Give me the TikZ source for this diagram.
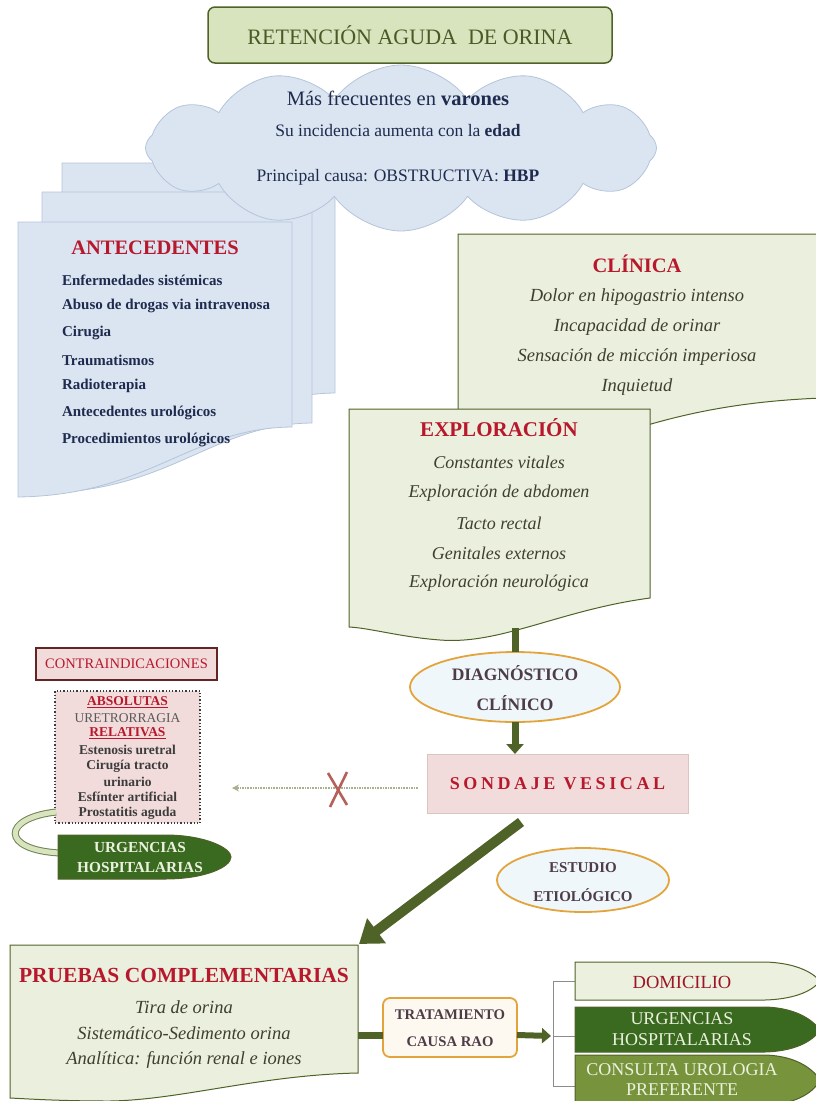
\documentclass[tikz,border=0pt]{standalone}
\usepackage{fontspec}
\setmainfont{Liberation Serif}
\usetikzlibrary{shapes.symbols,shapes.geometric,arrows.meta}
\newcommand{\myfs}[1]{\fontsize{#1pt}{#1pt}\selectfont}
\definecolor{cOlive}{HTML}{4F6228}
\definecolor{cTitleFill}{HTML}{D7E4BD}
\definecolor{cTitleText}{HTML}{4A5A26}
\definecolor{cBlueFill}{HTML}{DBE5F1}
\definecolor{cBlueLine}{HTML}{B4C4DA}
\definecolor{cDocFill}{HTML}{EBF0DE}
\definecolor{cRed}{HTML}{B8182C}
\definecolor{cItal}{HTML}{3F3F2F}
\definecolor{cNavy}{HTML}{1F2B4E}
\definecolor{cPink}{HTML}{F2DCDB}
\definecolor{cPinkLine}{HTML}{DCC4C3}
\definecolor{cBrown}{HTML}{632523}
\definecolor{cDkGreen}{HTML}{3A6A1F}
\definecolor{cMidGreen}{HTML}{77933C}
\definecolor{cLight}{HTML}{EBF1DE}
\definecolor{cOrange}{HTML}{E3A43C}
\definecolor{cEllFill}{HTML}{EFF7FB}
\definecolor{cEllText}{HTML}{4E3C48}
\definecolor{cGrayTxt}{HTML}{3C3C3C}
\definecolor{cBrk}{HTML}{8C8C8C}
\definecolor{cNoGo}{HTML}{A9B08C}
\definecolor{cXmark}{HTML}{B5605A}
\definecolor{cTtoFill}{HTML}{FDF8F0}
\begin{document}
\begin{tikzpicture}[x=1pt,y=-1pt,
  every node/.style={inner sep=0pt, outer sep=0pt},
  page/.style={fill=cBlueFill, draw=cBlueLine, line width=0.8pt},
  docbox/.style={fill=cDocFill, draw=cOlive, line width=1pt},
  redttl/.style={text=cRed, font=\myfs{#1}\bfseries},
  italtxt/.style={text=cItal, font=\myfs{18.5}\itshape},
  navytxt/.style={text=cNavy, font=\myfs{15}\bfseries, anchor=west},
  cloudtxt/.style={text=cNavy, font=\myfs{#1}},
  ovalbox/.style={ellipse, fill=cEllFill, draw=cOrange, line width=1.8pt},
  ovaltxt/.style={text=cEllText, font=\myfs{#1}\bfseries},
  smalltxt/.style={text=cGrayTxt, font=\myfs{13.5}\bfseries},
  bar/.style={draw=cOlive, line width=7pt},
  bullet/.style={draw=cOlive, line width=1pt},
  lighttxt/.style={text=cLight, font=\myfs{#1}}
]
\useasboundingbox (0,0) rectangle (816,1101);

% --- stacked pages (ANTECEDENTES)
\draw[page] (62,163) -- (335,163) -- (335,393) .. controls (235,394) and (195,461) .. (62,463) -- cycle;
\draw[page] (42,192) -- (312,192) -- (312,423) .. controls (212,424) and (172,491) .. (42,493) -- cycle;

% --- cloud
\node[cloud, cloud puffs=12, cloud puff arc=110, cloud ignores aspect,
      minimum width=511pt, minimum height=166pt,
      fill=cBlueFill, draw=cBlueLine, line width=0.8pt] (cloud) at (401,148) {};
\node[cloudtxt=20.5] (c1) at (398,98) {Más frecuentes en \textbf{varones}};
\node[cloudtxt=17.5] (c2) at (398,131) {Su incidencia aumenta con la \textbf{edad}};
\node[cloudtxt=17.5] (c3) at (398,177) {Principal causa: OBSTRUCTIVA: \textbf{HBP}};

% --- front page
\draw[page] (18,222) -- (292,222) -- (292,427) .. controls (190,428) and (150,495) .. (18,497) -- cycle;
\node[redttl=20.5] (antT) at (155,248) {ANTECEDENTES};
\node[navytxt] (a1) at (62,280) {Enfermedades sistémicas};
\node[navytxt] (a2) at (62,306) {Abuso de drogas via intravenosa};
\node[navytxt] (a3) at (62,333) {Cirugia};
\node[navytxt] (a4) at (62,360) {Traumatismos};
\node[navytxt] (a5) at (62,386) {Radioterapia};
\node[navytxt] (a6) at (62,413) {Antecedentes urológicos};
\node[navytxt] (a7) at (62,440) {Procedimientos urológicos};

% --- title
\node[draw=cOlive, line width=1.5pt, fill=cTitleFill, rounded corners=7pt,
      minimum width=404pt, minimum height=56pt, text=cTitleText, font=\myfs{22}] (title) at (410,35) {RETENCIÓN AGUDA\ \ DE ORINA};

% --- CLINICA
\draw[docbox] (458,234) -- (822,234) -- (822,398) .. controls (720,402) and (660,420) .. (600,440) .. controls (540,460) and (490,462) .. (458,460) -- cycle;
\node[redttl=20.5] (clT) at (637,264) {CLÍNICA};
\node[italtxt] (cl1) at (637,297) {Dolor en hipogastrio intenso};
\node[italtxt] (cl2) at (637,327) {Incapacidad de orinar};
\node[italtxt] (cl3) at (637,357) {Sensación de micción imperiosa};
\node[italtxt] (cl4) at (637,387) {Inquietud};

% --- EXPLORACION
\draw[docbox] (349,409) -- (650,409) -- (650,598) .. controls (560,610) and (500,645) .. (440,640) .. controls (400,637) and (370,628) .. (349,627) -- cycle;
\node[redttl=21] (exT) at (499,428) {EXPLORACIÓN};
\node[italtxt, font=\myfs{18}\itshape] (ex1) at (499,462) {Constantes vitales};
\node[italtxt, font=\myfs{18}\itshape] (ex2) at (499,493) {Exploración de abdomen};
\node[italtxt, font=\myfs{18}\itshape] (ex3) at (499,523) {Tacto rectal};
\node[italtxt, font=\myfs{18}\itshape] (ex4) at (499,553) {Genitales externos};
\node[italtxt, font=\myfs{18}\itshape] (ex5) at (499,583) {Exploración neurológica};
\coordinate (exploS) at (515,628);

% --- diagnostico
\node[ovalbox, minimum width=210pt, minimum height=70pt] (diag) at (515,687) {};
\node[ovaltxt=17.5] (dg1) at (515,673) {DIAGNÓSTICO};
\node[ovaltxt=17.5] (dg2) at (515,703) {CLÍNICO};
\draw[bar] (exploS) -- (exploS |- diag.north);

% --- sondaje
\node[fill=cPink, draw=cPinkLine, line width=0.8pt, minimum width=261pt, minimum height=59pt,
      text=cRed, font=\myfs{18}\bfseries\addfontfeatures{LetterSpace=20}] (sond) at (557.5,783.5) {SONDAJE VESICAL};
\draw[draw=cOlive, line width=7pt, -{Triangle[length=10pt,width=17pt]}] (diag.south) -- (diag.south |- sond.north);

% --- no-go arrow
\coordinate (noway) at (232,788);
\draw[draw=cNoGo, line width=1.6pt, densely dotted, shorten <=9pt, -{Stealth[length=7pt,width=7pt]}] ([yshift=-4.5pt]sond.west) -- (noway);
\draw[draw=cXmark, line width=2.6pt] (328,773) -- (347,805);
\draw[draw=cXmark, line width=2.6pt] (347,772) -- (330,807);

% --- contraindicaciones
\node[fill=cPink, draw=cBrown, line width=1.6pt, minimum width=181pt, minimum height=32pt,
      text=cRed, font=\myfs{14.5}] (contra) at (126.5,664) {CONTRAINDICACIONES};
\node[fill=cPink, draw=cGrayTxt, line width=1.3pt, dotted, minimum width=145pt, minimum height=132pt] (cbox) at (127.5,757) {};
\node[redttl=13.5] (k1) at (127.5,702) {\underline{ABSOLUTAS}};
\node[text=cGrayTxt!85, font=\myfs{13.5}] (k2) at (127.5,718) {URETRORRAGIA};
\node[redttl=13.5] (k3) at (127.5,733) {\underline{RELATIVAS}};
\node[smalltxt] (k4) at (127.5,750) {Estenosis uretral};
\node[smalltxt] (k5) at (127.5,766) {Cirugía tracto};
\node[smalltxt] (k6) at (127.5,782) {urinario};
\node[smalltxt] (k7) at (127.5,797) {Esfínter artificial};
\node[smalltxt] (k8) at (127.5,813) {Prostatitis aguda};

% --- ribbon to urgencias (left)
\coordinate (ribA) at (56,812);
\coordinate (ribB) at (60,853);
\draw[draw=cOlive!80, line width=1pt, double=cTitleFill, double distance=5pt] (ribA) .. controls (2,818) and (0,850) .. (ribB);
\draw[bullet, fill=cDkGreen] (58,835) -- (165,835) .. controls (205,835) and (231,848) .. (231,857) .. controls (231,867) and (205,879) .. (165,879) -- (58,879) -- cycle;
\node[lighttxt=15.3, font=\myfs{15.3}\bfseries] (ul1) at (140,847) {URGENCIAS};
\node[lighttxt=15.3, font=\myfs{15.3}\bfseries] (ul2) at (140,867) {HOSPITALARIAS};

% --- estudio etiologico
\node[ovalbox, minimum width=172pt, minimum height=64pt] (estud) at (583,880) {};
\node[ovaltxt=15] (es1) at (583,868) {ESTUDIO};
\node[ovaltxt=15] (es2) at (583,895) {ETIOLÓGICO};

% --- pruebas complementarias
\draw[docbox] (10,945) -- (358,945) -- (358,1073) .. controls (260,1075) and (180,1100) .. (110,1101) .. controls (60,1101) and (30,1099) .. (10,1098) -- cycle;
\coordinate (prNE) at (359,944);
\node[redttl=21.5] (prT) at (184,975) {PRUEBAS COMPLEMENTARIAS};
\node[italtxt] (pr1) at (184,1007) {Tira de orina};
\node[italtxt] (pr2) at (184,1033) {Sistemático-Sedimento orina};
\node[italtxt] (pr3) at (184,1060) {Analítica: función renal e iones};

% --- big diagonal arrow
\coordinate (bigA) at (521,822);
\draw[draw=cOlive, line width=10pt, -{Triangle[length=22pt,width=30pt]}] (bigA) -- (prNE);

% --- tratamiento
\node[fill=cTtoFill, draw=cOrange, line width=1.8pt, rounded corners=7pt,
      minimum width=134pt, minimum height=59pt] (tto) at (450,1027.5) {};
\node[ovaltxt=14.7] (t1) at (450,1015) {TRATAMIENTO};
\node[ovaltxt=14.7] (t2) at (450,1042) {CAUSA RAO};
\coordinate (prE) at (358,1035);
\draw[bar] (prE) -- (prE -| tto.west);

% --- bracket
\coordinate (brMid) at (553,1036);
\coordinate (domW) at (575,981);
\coordinate (urgW) at (575,1036);
\coordinate (conW) at (575,1086);
\draw[draw=cOlive, line width=6pt, -{Triangle[length=9pt,width=15pt]}] (tto.east |- prE) -- ([xshift=-2pt]brMid);
\draw[draw=cBrk, line width=0.8pt] (domW) -- ++(-22,0) |- (conW);
\draw[draw=cBrk, line width=0.8pt] (urgW) -- (brMid);

% --- right bullets
\draw[bullet, fill=cLight] (575,962) -- (765,962) .. controls (800,963) and (815,975) .. (820,981) .. controls (815,988) and (800,999) .. (765,1000) -- (575,1000) -- cycle;
\node[text=cRed!85!black, font=\myfs{18.5}] (dom) at (682,982) {DOMICILIO};
\draw[bullet, fill=cDkGreen] (575,1007) -- (765,1007) .. controls (800,1008) and (815,1023) .. (820,1030) .. controls (815,1038) and (800,1051) .. (765,1052) -- (575,1052) -- cycle;
\node[lighttxt=18] (ur1) at (682,1019) {URGENCIAS};
\node[lighttxt=18] (ur2) at (682,1040) {HOSPITALARIAS};
\draw[bullet, fill=cMidGreen] (575,1055) -- (765,1055) .. controls (800,1056) and (815,1072) .. (820,1080) .. controls (815,1090) and (800,1104) .. (765,1105) -- (575,1105) -- cycle;
\node[lighttxt=18] (co1) at (682,1070) {CONSULTA UROLOGIA};
\node[lighttxt=18] (co2) at (682,1090) {PREFERENTE};
\end{tikzpicture}
\end{document}
